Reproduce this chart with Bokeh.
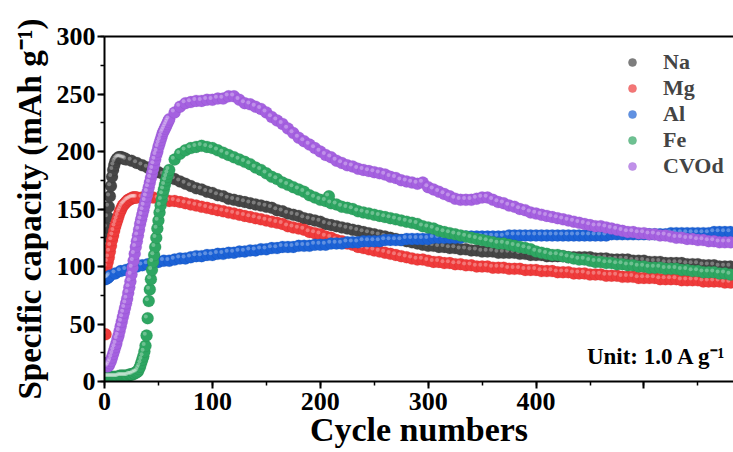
from bokeh.plotting import figure
from bokeh.models import (Range1d, LinearAxis, SingleIntervalTicker, FixedTicker,
                          Legend, LegendItem, Label, ColumnDataSource)
from bokeh.transform import dodge
from bokeh.embed import file_html
from bokeh.resources import INLINE

# ---------------- data ----------------
x_tick_labels = {500: ""}

na_cycles = list(range(1, 21)) + list(range(25, 585, 5))
na_cap = [126, 134, 143, 152, 161, 170, 178, 184, 188, 191, 193, 194, 195, 195, 195, 195, 194, 194, 194, 193,
          192, 190, 188, 186, 184, 182, 180, 178, 176, 174,
          172, 170, 168, 167, 165, 164, 162, 161, 159, 158,
          157, 156, 155, 154, 153, 152, 151, 149, 148, 146,
          145, 144, 142, 141, 140, 139, 137, 136, 135, 134,
          133, 132, 131, 130, 129, 128, 127, 126, 125, 124,
          123, 122, 121, 120, 119, 118, 118, 117, 117, 116,
          116, 115, 115, 114, 114, 113, 113, 113, 112, 112,
          112, 112, 111, 111, 110, 110, 110, 109, 109, 109,
          109, 108, 108, 108, 108, 108, 107, 107, 107, 106,
          106, 106, 106, 105, 105, 105, 104, 104, 104, 103,
          103, 103, 103, 102, 102, 102, 101, 101, 101, 100,
          100, 100]

mg_cycles = list(range(1, 31)) + list(range(35, 585, 5))
mg_cap = [41, 100, 104, 108, 113, 118, 123, 127, 131, 135, 138, 141, 144, 147, 149,
          151, 153, 154, 155, 156, 157, 158, 158, 159, 159, 160, 160, 160, 160, 160,
          160, 160, 160, 159, 158, 157, 157, 156, 155, 154,
          153, 152, 151, 150, 149, 148, 147, 146, 145, 144,
          143, 142, 141, 140, 139, 138, 137, 135, 134, 133,
          132, 130, 129, 128, 126, 125, 123, 122, 120, 119,
          117, 116, 115, 114, 113, 112, 111, 110, 109, 108,
          107, 106, 106, 105, 104, 104, 103, 103, 102, 102,
          101, 101, 100, 100, 100, 99, 99, 99, 98, 98,
          98, 97, 97, 97, 96, 96, 96, 95, 95, 95,
          94, 94, 94, 93, 93, 93, 92, 92, 92, 91,
          91, 91, 90, 90, 90, 90, 89, 89, 89, 89,
          88, 88, 88, 88, 87, 87, 87, 87, 86, 86]

al_cycles = [1, 2, 3, 4] + list(range(5, 585, 5))
al_cap = [89, 90, 90, 91,
          92, 94, 96, 97, 99, 100, 101, 102, 103, 104,
          105, 105, 106, 107, 107, 108, 109, 109, 110, 110,
          111, 111, 112, 112, 113, 113, 114, 114, 115, 115,
          116, 116, 117, 117, 117, 118, 118, 118, 119, 119,
          119, 120, 120, 120, 121, 121, 121, 122, 122, 122,
          122, 123, 123, 123, 123, 124, 124, 124, 124, 124,
          125, 125, 125, 125, 125, 125, 126, 126, 126, 126,
          126, 126, 126, 126, 127, 127, 127, 127, 127, 127,
          127, 127, 127, 127, 127, 127, 127, 127, 127, 127,
          127, 127, 127, 128, 128, 128, 128, 128, 128, 128,
          128, 128, 128, 128, 129, 129, 129, 129, 129, 129,
          129, 129, 130, 130, 130, 130]

fe_cycles = list(range(0, 61)) + list(range(65, 585, 5)) + [208]
fe_cap = [4, 4, 4, 4, 4, 4, 4, 4, 4, 4, 4, 4, 4, 4, 5, 5, 5, 5, 5, 5,
          5, 5, 5, 6, 6, 6, 6, 7, 7, 8, 8, 9, 11, 13, 16, 19, 22, 26, 31, 40,
          55, 70, 80, 89, 97, 104, 110, 117, 125, 133, 140, 147, 153, 158, 163, 167, 171, 175, 178, 181,
          184,
          193, 198, 201, 203, 204, 205, 204, 203, 201, 199,
          197, 195, 193, 191, 189, 186, 184, 181, 178, 176,
          173, 171, 169, 167, 165, 162, 160, 158, 157, 155,
          154, 152, 151, 150, 148, 147, 146, 145, 144, 143,
          142, 141, 140, 139, 138, 137, 135, 134, 133, 131,
          130, 129, 128, 127, 126, 125, 124, 123, 122, 121,
          120, 120, 119, 118, 117, 116, 115, 113, 112, 111,
          110, 110, 109, 108, 107, 106, 106, 105, 104, 104,
          103, 103, 102, 102, 101, 101, 100, 100, 99, 99,
          99, 98, 98, 98, 97, 97, 96, 96, 95, 95,
          95, 94, 94, 93,
          161]

cvod_cycles = list(range(1, 61)) + list(range(65, 585, 5))
cvod_cap = [16, 14, 13, 14, 16, 18, 21, 24, 27, 30, 33, 37, 40, 44, 48, 52, 56, 60, 64, 68,
            72, 77, 82, 87, 93, 99, 105, 111, 117, 122, 127, 132, 137, 141, 145, 149, 153, 157, 161, 165,
            169, 173, 177, 181, 185, 189, 193, 197, 200, 204, 207, 210, 213, 216, 218, 220, 222, 224, 226, 228,
            234, 239, 242, 243, 244, 244, 245, 245, 246, 246,
            248, 248, 245, 242, 241, 239, 237, 234, 230, 227,
            224, 220, 216, 212, 209, 206, 203, 200, 197, 195,
            192, 190, 188, 187, 185, 184, 183, 182, 181, 180,
            178, 177, 175, 174, 173, 172, 173, 169, 167, 165,
            163, 161, 159, 158, 158, 158, 159, 160, 160, 158,
            156, 155, 153, 152, 150, 149, 147, 146, 145, 144,
            143, 142, 141, 140, 139, 138, 137, 136, 135, 135,
            134, 133, 132, 131, 130, 130, 129, 129, 128, 128,
            127, 127, 126, 125, 125, 124, 124, 123, 123, 122,
            122, 121, 121, 121]

series_names = ["Na", "Mg", "Al", "Fe", "CVOd"]
series_colors = ["#464646", "#ef3b3b", "#1c62d6", "#2ea662", "#a561e0"]
series_edges = ["#2b2b2b", "#c42222", "#0f47a8", "#1c7c45", "#7f40bb"]
series_x = [na_cycles, mg_cycles, al_cycles, fe_cycles, cvod_cycles]
series_y = [na_cap, mg_cap, al_cap, fe_cap, cvod_cap]

FONT = "Liberation Serif"

p = figure(width=733, height=452, x_range=Range1d(0, 583), y_range=Range1d(0, 300),
           output_backend="svg", toolbar_location=None,
           min_border_left=104, min_border_right=0, min_border_top=36, min_border_bottom=71)
p.grid.visible = False
p.outline_line_color = None
p.background_fill_color = "white"
p.border_fill_color = "white"

p.xaxis.ticker = SingleIntervalTicker(interval=100, num_minor_ticks=2)
p.yaxis.ticker = SingleIntervalTicker(interval=50, num_minor_ticks=2)
p.xaxis.major_label_overrides = x_tick_labels

for ax in (p.xaxis[0], p.yaxis[0]):
    ax.axis_line_width = 2
    ax.major_tick_line_width = 2
    ax.minor_tick_line_width = 1.5
    ax.major_tick_out = 7
    ax.major_tick_in = 0
    ax.minor_tick_out = 4
    ax.minor_tick_in = 0
    ax.major_label_text_font = FONT
    ax.major_label_text_font_style = "bold"
    ax.major_label_text_font_size = "26px"
    ax.major_label_text_color = "black"
    ax.axis_label_text_font = FONT
    ax.axis_label_text_font_style = "bold"
    ax.axis_label_text_font_size = "33px"
    ax.axis_label_text_color = "black"

p.xaxis.axis_label = "Cycle numbers"
p.xaxis.axis_label_text_font_size = "34px"
p.yaxis.axis_label = "Specific capacity (mAh g\u207b\u00b9)"
p.xaxis.major_label_standoff = 4
p.xaxis.axis_label_standoff = -2
p.yaxis.major_label_standoff = 2
p.yaxis.axis_label_standoff = 6

top = LinearAxis(ticker=FixedTicker(ticks=[]), axis_line_width=2,
                 major_tick_out=0, minor_tick_out=0, major_label_text_font_size="0px")
p.add_layout(top, "above")

items = []
for name, xs, ys, col, edge in zip(series_names, series_x, series_y, series_colors, series_edges):
    n = min(len(xs), len(ys))
    src = ColumnDataSource(dict(x=xs[:n], y=ys[:n]))
    base = p.scatter("x", "y", source=src, size=12, fill_color=col,
                     line_color=edge, line_alpha=0.3, line_width=0.6)
    hl = p.scatter(x=dodge("x", -1.7, range=p.x_range), y=dodge("y", 1.6, range=p.y_range),
                   source=src, size=4, fill_color="white", fill_alpha=0.3, line_color=None)
    items.append(LegendItem(label=name, renderers=[base, hl]))

legend = Legend(items=items, location=(518, 202), orientation="vertical",
                label_text_font=FONT, label_text_font_style="bold", label_text_font_size="22px",
                glyph_width=20, glyph_height=26, label_height=26, label_standoff=21,
                spacing=0, padding=0, margin=0, border_line_color=None, background_fill_alpha=0)
p.add_layout(legend, "center")

unit = Label(x=577, y=22, text="Unit: 1.0 A g\u207b\u00b9", text_align="right", text_baseline="middle",
             text_font=FONT, text_font_style="bold", text_font_size="23px", text_color="black")
p.add_layout(unit)

open("out.html", "w").write(file_html(p, INLINE))
